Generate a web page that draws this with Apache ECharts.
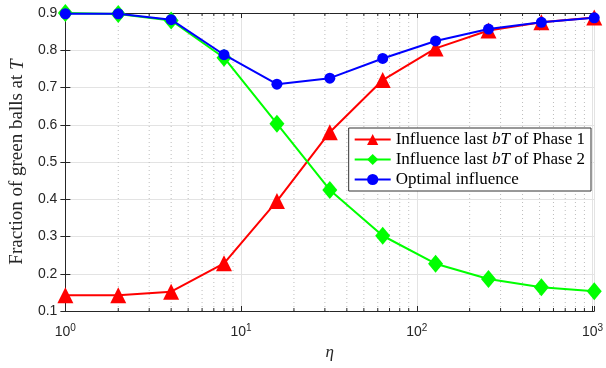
<!DOCTYPE html>
<html>
<head>
<meta charset="utf-8">
<script src="https://cdn.jsdelivr.net/npm/echarts@6/dist/echarts.min.js"></script>
<style>
  html, body { margin: 0; padding: 0; background: #fff; }
  #graph1 { width: 606px; height: 368px; }
</style>
</head>
<body>
<div id="graph1"></div>
<script>
/* eta = 2^0 .. 2^10 */
var etaList = [1, 2, 4, 8, 16, 32, 64, 128, 256, 512, 1024];
var phase1 = [0.142, 0.142, 0.152, 0.228, 0.395, 0.580, 0.720, 0.805, 0.853, 0.875, 0.888]; // Influence last bT of Phase 1
var phase2 = [0.900, 0.897, 0.880, 0.780, 0.603, 0.425, 0.302, 0.227, 0.186, 0.164, 0.153]; // Influence last bT of Phase 2
var optimal = [0.898, 0.898, 0.882, 0.788, 0.709, 0.725, 0.778, 0.825, 0.857, 0.875, 0.887]; // Optimal influence
var seriesNames = ['Influence last bT of Phase 1', 'Influence last bT of Phase 2', 'Optimal influence'];

// minor grid (2..9 in every decade)
var minorX = [];
for (var d = 1; d <= 100; d *= 10) {
  for (var k = 2; k <= 9; k++) {
    minorX.push([Math.log10(k * d), 0.1]);
  }
}

function toLog(ys) {
  var out = [];
  for (var i in ys) {
    out[i] = [Math.log10(etaList[i]), ys[i]];
  }
  return out;
}

var axisColor = '#262626';
var xMax = Math.log10(1024);

var myChart = echarts.init(document.getElementById('graph1'));

var option = {
  animation: false,
  backgroundColor: '#fff',
  grid: { left: 61, right: 9, top: 13, bottom: 57 },
  legend: {
    data: seriesNames,
    orient: 'vertical',
    right: 15,
    top: 128,
    backgroundColor: '#fff',
    borderColor: '#333',
    borderWidth: 1,
    borderRadius: 0,
    padding: [3, 6, 3, 5],
    itemGap: 3,
    itemWidth: 36,
    itemHeight: 14,
    formatter: function (name) {
      if (name === seriesNames[2]) return '{n|Optimal influence}';
      var p = name.slice(-1);
      return '{n|Influence last }{i|bT}{n| of Phase ' + p + '}';
    },
    textStyle: {
      color: '#000',
      rich: {
        n: { fontFamily: 'Liberation Serif', fontSize: 17, color: '#000' },
        i: { fontFamily: 'Liberation Serif', fontStyle: 'italic', fontSize: 17, color: '#000' }
      }
    }
  },
  xAxis: [
    {
      type: 'value',
      min: 0,
      max: xMax,
      interval: 1,
      name: 'η',
      nameLocation: 'middle',
      nameGap: 33,
      nameTextStyle: { fontFamily: 'Liberation Serif', fontStyle: 'italic', fontSize: 17, color: axisColor },
      axisLine: { lineStyle: { color: axisColor, width: 1 } },
      axisTick: { inside: true, length: 5, lineStyle: { color: axisColor } },
      axisLabel: {
        margin: 12,
        showMaxLabel: true,
        formatter: function (v) {
          if (Math.abs(v - Math.round(v)) > 1e-6) return '';
          return '{b|10}{s|' + Math.round(v) + '}';
        },
        rich: {
          b: { fontFamily: 'Liberation Sans', fontSize: 14, color: axisColor },
          s: { fontFamily: 'Liberation Sans', fontSize: 10, color: axisColor, padding: [0, 0, 9, 0] }
        }
      },
      splitLine: { show: true, lineStyle: { color: '#e3e3e3', width: 1 } }
    },
    {
      type: 'value',
      position: 'top',
      min: 0,
      max: xMax,
      interval: 1,
      axisLine: { lineStyle: { color: axisColor, width: 1 } },
      axisTick: { inside: true, length: 5, lineStyle: { color: axisColor } },
      axisLabel: { show: false },
      splitLine: { show: false }
    }
  ],
  yAxis: [
    {
      type: 'value',
      min: 0.1,
      max: 0.9,
      interval: 0.1,
      name: '{n|Fraction of green balls at }{i|T}',
      nameLocation: 'middle',
      nameGap: 38,
      nameTextStyle: {
        rich: {
          n: { fontFamily: 'Liberation Serif', fontSize: 19, color: axisColor },
          i: { fontFamily: 'Liberation Serif', fontStyle: 'italic', fontSize: 19, color: axisColor }
        }
      },
      axisLine: { show: true, lineStyle: { color: axisColor, width: 1 } },
      axisTick: { show: true, inside: true, length: 5, lineStyle: { color: axisColor } },
      axisLabel: {
        margin: 8,
        fontFamily: 'Liberation Sans',
        fontSize: 14,
        color: axisColor,
        formatter: function (v) { return v.toFixed(1); }
      },
      splitLine: { show: true, lineStyle: { color: '#e3e3e3', width: 1 } }
    },
    {
      type: 'value',
      position: 'right',
      min: 0.1,
      max: 0.9,
      interval: 0.1,
      axisLine: { show: true, lineStyle: { color: axisColor, width: 1 } },
      axisTick: { show: true, inside: true, length: 5, lineStyle: { color: axisColor } },
      axisLabel: { show: false },
      splitLine: { show: false }
    }
  ],
  series: [
    {
      name: 'minor',
      type: 'custom',
      silent: true,
      z: 1,
      data: minorX,
      renderItem: function (params, api) {
        var x = api.value(0);
        var p0 = api.coord([x, 0.1]);
        var p1 = api.coord([x, 0.9]);
        return {
          type: 'group',
          children: [
            {
              type: 'line',
              shape: { x1: p0[0], y1: p0[1], x2: p1[0], y2: p1[1] },
              style: { stroke: '#bdbdbd', lineWidth: 1, lineDash: [1, 3] }
            },
            {
              type: 'line',
              shape: { x1: p0[0], y1: p0[1], x2: p0[0], y2: p0[1] - 3 },
              style: { stroke: axisColor, lineWidth: 1 }
            },
            {
              type: 'line',
              shape: { x1: p1[0], y1: p1[1], x2: p1[0], y2: p1[1] + 3 },
              style: { stroke: axisColor, lineWidth: 1 }
            }
          ]
        };
      }
    },
    {
      name: seriesNames[0],
      type: 'line',
      data: toLog(phase1),
      symbol: 'triangle',
      symbolSize: 16,
      color: '#ff0000',
      lineStyle: { color: '#ff0000', width: 2 },
      itemStyle: { color: '#ff0000' },
      z: 3
    },
    {
      name: seriesNames[1],
      type: 'line',
      data: toLog(phase2),
      symbol: 'diamond',
      symbolSize: [15, 18],
      color: '#00ff00',
      lineStyle: { color: '#00ff00', width: 2 },
      itemStyle: { color: '#00ff00' },
      z: 4
    },
    {
      name: seriesNames[2],
      type: 'line',
      data: toLog(optimal),
      symbol: 'circle',
      symbolSize: 11,
      color: '#0000ff',
      lineStyle: { color: '#0000ff', width: 2 },
      itemStyle: { color: '#0000ff' },
      z: 5
    }
  ]
};
myChart.setOption(option);
</script>
</body>
</html>
